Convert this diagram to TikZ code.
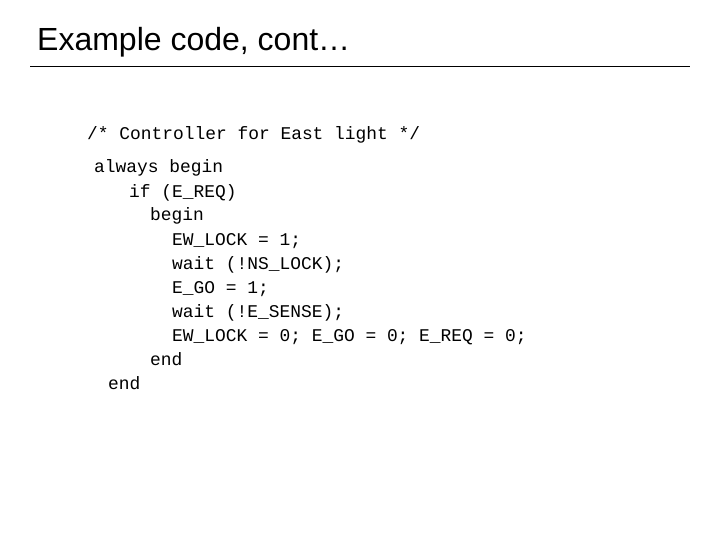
\documentclass[tikz,border=0pt]{standalone}
\usepackage{fontspec}
\setmainfont{Liberation Sans}
\setmonofont{Liberation Mono}
\begin{document}
\begin{tikzpicture}[x=1pt,y=-1pt,
  code/.style={anchor=base west,inner sep=0pt,font=\fontsize{17.9}{20}\ttfamily}]
\useasboundingbox (0,0) rectangle (720,540);
\node[anchor=base west,inner sep=0pt,font=\fontsize{32}{36}\selectfont] (title) at (37,51) {Example code, cont…};
\draw[line width=0.8pt] (30,66) -- (690,66);
\node[code] (l1) at (87,140) {/* Controller for East light */};
\node[code] (l2) at (94,173) {always begin};
\node[code] (l3) at (129,197) {if (E\_REQ)};
\node[code] (l4) at (150,221) {begin};
\node[code] (l5) at (172,245) {EW\_LOCK = 1;};
\node[code] (l6) at (172,269) {wait (!NS\_LOCK);};
\node[code] (l7) at (172,293) {E\_GO = 1;};
\node[code] (l8) at (172,317) {wait (!E\_SENSE);};
\node[code] (l9) at (172,341) {EW\_LOCK = 0; E\_GO = 0; E\_REQ = 0;};
\node[code] (l10) at (150,365) {end};
\node[code] (l11) at (108,389) {end};
\end{tikzpicture}
\end{document}
